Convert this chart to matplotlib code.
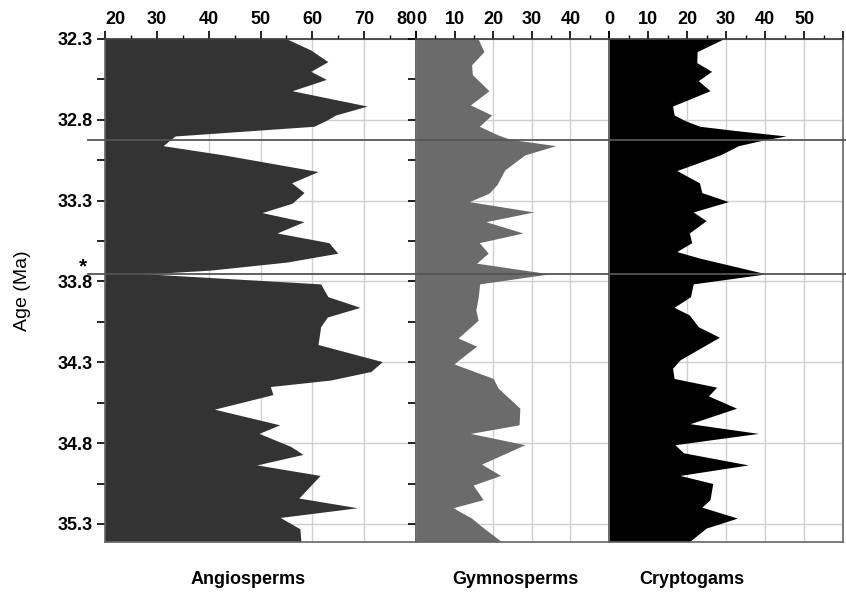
import matplotlib
matplotlib.use('Agg')
import matplotlib.pyplot as plt
from matplotlib.lines import Line2D
import numpy as np

plt.rcParams['font.family'] = ['Liberation Sans', 'DejaVu Sans']

# pollen percentages (age in Ma, value in %)
angio_age = [32.30, 32.368, 32.44, 32.50, 32.55, 32.62, 32.715, 32.77, 32.80, 32.84,
             32.90, 32.96, 33.017, 33.12, 33.19, 33.25, 33.316, 33.374, 33.43, 33.50,
             33.56, 33.625, 33.68, 33.73, 33.753, 33.815, 33.894, 33.96, 34.02, 34.08,
             34.19, 34.296, 34.357, 34.41, 34.45, 34.50, 34.59, 34.687, 34.74, 34.82,
             34.87, 34.935, 35.00, 35.14, 35.20, 35.26, 35.33, 35.41]
angio_val = [55.1, 59.7, 63.0, 59.7, 62.7, 56.1, 70.6, 64.5, 62.9, 60.3,
             33.5, 31.2, 42.9, 61.1, 56.0, 58.4, 56.1, 50.3, 58.4, 53.2,
             63.2, 64.9, 55.1, 40.3, 28.1, 61.6, 63.0, 69.2, 62.9, 61.6,
             61.1, 73.5, 71.3, 63.5, 51.9, 52.4, 41.1, 53.7, 49.7, 55.8,
             58.2, 49.3, 61.5, 57.4, 68.7, 53.8, 57.6, 57.8]

gymno_age = [32.30, 32.378, 32.46, 32.52, 32.62, 32.708, 32.77, 32.84, 32.894, 32.92,
             32.96, 33.017, 33.11, 33.20, 33.254, 33.306, 33.37, 33.43, 33.50, 33.56,
             33.625, 33.687, 33.753, 33.815, 33.90, 33.976, 34.04, 34.15, 34.20, 34.31,
             34.40, 34.46, 34.584, 34.687, 34.74, 34.81, 34.93, 35.00, 35.06, 35.15,
             35.20, 35.264, 35.316, 35.41]
gymno_val = [16.1, 17.6, 14.4, 14.6, 18.9, 14.1, 19.6, 16.4, 21.3, 24.3,
             36.2, 28.2, 23.0, 21.0, 18.9, 13.8, 30.5, 18.1, 27.7, 16.4,
             18.7, 15.7, 34.6, 16.5, 16.1, 15.5, 16.1, 10.9, 15.7, 9.8,
             20.0, 21.3, 26.9, 26.7, 14.1, 28.2, 17.0, 21.9, 14.8, 17.4,
             9.6, 14.4, 17.0, 22.2]

crypto_age = [32.30, 32.378, 32.446, 32.50, 32.558, 32.62, 32.715, 32.77, 32.805, 32.84,
              32.867, 32.90, 32.925, 32.96, 33.017, 33.114, 33.19, 33.25, 33.306, 33.37,
              33.424, 33.50, 33.56, 33.615, 33.656, 33.753, 33.815, 33.894, 33.96, 34.007,
              34.08, 34.145, 34.285, 34.337, 34.40, 34.454, 34.508, 34.584, 34.68, 34.74,
              34.81, 34.86, 34.935, 35.00, 35.05, 35.15, 35.196, 35.264, 35.326, 35.41]
crypto_val = [29.3, 22.6, 22.5, 26.3, 22.9, 25.9, 16.3, 16.7, 19.5, 23.3,
              32.7, 45.4, 39.6, 33.2, 28.5, 17.4, 23.2, 23.8, 30.6, 21.6,
              24.9, 20.6, 21.2, 17.4, 23.3, 40.3, 21.6, 20.9, 16.7, 20.6,
              22.9, 28.3, 18.2, 16.3, 16.7, 27.6, 25.5, 32.7, 20.8, 38.3,
              16.9, 19.1, 35.7, 18.2, 26.6, 25.9, 23.8, 32.9, 24.9, 20.6]

panel_names = ['Angiosperms', 'Gymnosperms', 'Cryptogams']
age_ticks = [32.3, 32.8, 33.3, 33.8, 34.3, 34.8, 35.3]
boundary_ages = [32.925, 33.755]

fig = plt.figure(figsize=(8.46, 5.92), dpi=100)
top, bot = 1 - 39 / 592, 1 - 541.7 / 592
ax1 = fig.add_axes([105 / 846, bot, 311 / 846, top - bot])
ax2 = fig.add_axes([416 / 846, bot, 193 / 846, top - bot], sharey=ax1)
ax3 = fig.add_axes([609 / 846, bot, 234 / 846, top - bot], sharey=ax1)

panels = [
    (ax1, angio_age, angio_val, '#333333', (20, 80), np.arange(20, 81, 10)),
    (ax2, gymno_age, gymno_val, '#6b6b6b', (0, 50), np.arange(0, 41, 10)),
    (ax3, crypto_age, crypto_val, '#000000', (0, 60), np.arange(0, 51, 10)),
]

for ax, ages, vals, col, xlim, xt in panels:
    ax.fill_betweenx(ages, 0, vals, color=col, lw=0, zorder=2)
    ax.set_xlim(*xlim)
    ax.set_ylim(35.41, 32.3)
    ax.xaxis.tick_top()
    ax.set_xticks(np.arange(xlim[0], xlim[1] + 1, 5), minor=True)
    ax.set_xticks(np.arange(xlim[0], xlim[1] + 1, 10), minor=False)
    ax.set_xticklabels([str(v) if v in xt else '' for v in np.arange(xlim[0], xlim[1] + 1, 10)])
    ax.set_yticks(age_ticks)
    ax.set_yticks(np.arange(32.55, 35.41, 0.5), minor=True)
    ax.grid(True, which='major', color='#cfcfcf', lw=1, zorder=0)
    ax.set_axisbelow(True)
    ax.tick_params(axis='x', which='major', direction='out', length=6, width=1.2,
                   labelsize=13, pad=2, top=True, bottom=False)
    ax.tick_params(axis='x', which='minor', direction='out', length=3, width=1,
                   top=True, bottom=False)
    ax.tick_params(axis='y', which='both', left=False, right=False, labelleft=False)
    for lab in ax.get_xticklabels():
        lab.set_fontweight('bold')
    for sp in ax.spines.values():
        sp.set_color('#666666')
        sp.set_linewidth(1.2)
    ax.spines['top'].set_color('#333333')

# age ticks: outward on the left of the first panel
ax1.tick_params(axis='y', which='both', left=True, labelleft=True,
                labelsize=13, pad=3, length=6, width=1.2, direction='out')
ax1.set_yticklabels(['%.1f' % a for a in age_ticks])
for lab in ax1.get_yticklabels():
    lab.set_fontweight('bold')
# ticks pointing back into the first panel from its right edge
ax2.tick_params(axis='y', which='both', left=True, labelleft=False,
                length=6, width=1.2, direction='out')

# shift the end labels inward like the original
xl = ax1.get_xticklabels()
xl[0].set_horizontalalignment('left')
xl[-1].set_horizontalalignment('right')
ax2.get_xticklabels()[0].set_horizontalalignment('left')

ax1.set_ylabel('Age (Ma)', fontsize=14)
ax1.yaxis.set_label_coords(-0.238, 0.5)

# boundary lines across the whole figure
for a in boundary_ages:
    yfig = bot + (35.41 - a) / (35.41 - 32.3) * (top - bot)
    fig.add_artist(Line2D([88 / 846, 1.0], [yfig, yfig], color='#555555', lw=1.3,
                          transform=fig.transFigure, zorder=10))

fig.text(83 / 846, 1 - 267 / 592, '*', fontsize=15, fontweight='bold', ha='center', va='center')

label_x = [248, 515, 692]
for name, lx in zip(panel_names, label_x):
    fig.text(lx / 846, 1 - 580 / 592, name, fontsize=13, fontweight='bold',
             ha='center', va='center')

fig.savefig('out.png', dpi=100)
